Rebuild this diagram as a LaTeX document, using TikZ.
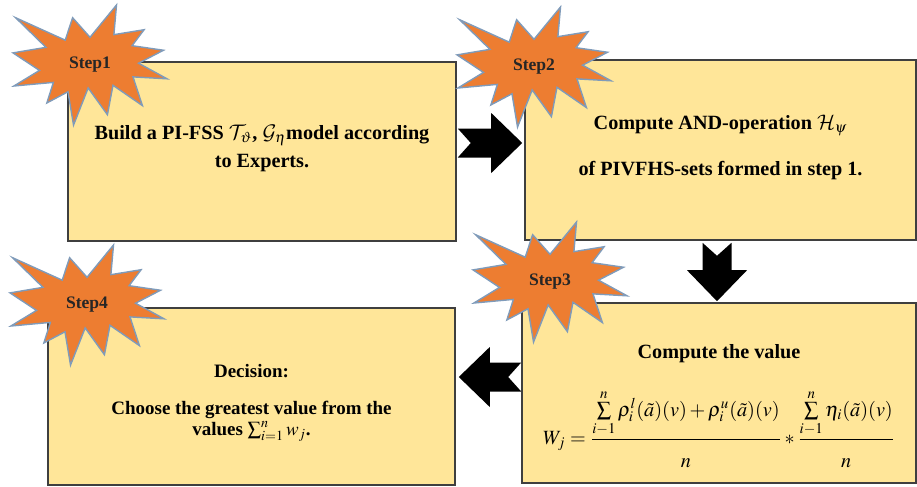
\documentclass[tikz,border=0pt]{standalone}
\usepackage{amsmath}
\usepackage{mathptmx}
\DeclareMathAlphabet{\mathcal}{OMS}{cmsy}{m}{n}
\usepackage{fontspec}
\setmainfont{Liberation Serif}
\usetikzlibrary{calc}

\definecolor{boxfill}{HTML}{FFE699}
\definecolor{boxline}{HTML}{3F3F3F}
\definecolor{burstfill}{HTML}{ED7D31}
\definecolor{burstline}{HTML}{7F9BBA}

\begin{document}
\begin{tikzpicture}[
    stepbox/.style={draw=boxline, fill=boxfill, line width=0.9pt, align=center, font=\fontsize{11.5}{16}\selectfont\bfseries},
    step label/.style={font=\fontsize{10}{12}\selectfont\bfseries, text=black!85, inner sep=0pt},
    burst/.style={fill=burstfill, draw=burstline, line width=0.8pt, line join=miter},
    explosion/.pic={
      \begin{scope}[x=0.0308cm, y=-0.024cm]
        \path[burst] (50,26.9) -- (67.2,0) -- (65.5,24.7) -- (85.1,20.6) -- (77.3,33.9) -- (97.7,37.7)
          -- (81.5,48.5) -- (100,61.5) -- (77.9,59.9) -- (84.0,83.8) -- (64.9,66.9) -- (61.3,91.4)
          -- (48.8,69.1) -- (39.3,100) -- (35.7,72.3) -- (22.0,81.6) -- (26.2,64.5) -- (0.6,67.5)
          -- (17.2,54.5) -- (0,39.9) -- (21.4,35.3) -- (1.7,10.6) -- (33.9,29.3) -- (38.7,10.6) -- cycle;
        \node[step label] (-label) at (50,50) {#1};
      \end{scope}
    },
    notch arrow/.style={fill=black, to path={
      let \p1=(\tikztostart), \p2=(\tikztotarget),
          \n1={atan2(\y2-\y1,\x2-\x1)}, \n2={veclen(\x2-\x1,\y2-\y1)-0.62cm} in
      ($(\p1)+(\n1+90:0.29cm)$) -- ++(\n1:\n2) -- ++(\n1+90:0.31cm) -- (\p2)
      -- ($(\p1)+(\n1:\n2)+(\n1-90:0.6cm)$) -- ++(\n1+90:0.31cm) -- ++(\n1+180:\n2)
      -- ($(\p1)+(\n1:0.26cm)$) -- cycle}}
  ]
    \useasboundingbox (0,0) rectangle (18.34,9.72);

    % the four step boxes
    \node[stepbox, minimum width=7.76cm, minimum height=3.58cm] (build) at (5.24,6.69)
      {Build a PI-FSS $\mathcal{T}_{\vartheta}$, $\mathcal{G}_{\eta}$model according\\to Experts.\rule[-2mm]{0pt}{0pt}};
    \node[stepbox, minimum width=7.82cm, minimum height=3.6cm] (andop) at (14.41,6.72)
      {Compute AND-operation $\mathcal{H}_{\psi}$\\[3.5mm]of PIVFHS-sets formed in step 1.\rule[-1.8mm]{0pt}{0pt}};
    \node[stepbox, minimum width=7.88cm, minimum height=3.6cm] (value) at (14.38,1.86)
      {\rule{0pt}{8mm}Compute the value\\[5mm]
       $W_j=\dfrac{\sum\limits_{i-1}^{n}\rho_i^{l}(\tilde{a})(v)+\rho_i^{u}(\tilde{a})(v)\rule[-3mm]{0pt}{0pt}}{\rule{0pt}{5mm}n}
        *\dfrac{\sum\limits_{i-1}^{n}\eta_i(\tilde{a})(v)\rule[-3mm]{0pt}{0pt}}{\rule{0pt}{5mm}n}$};
    \node[stepbox, minimum width=8.14cm, minimum height=3.54cm, font=\fontsize{10.8}{13}\selectfont\bfseries] (decide) at (5.03,1.79)
      {\rule{0pt}{5mm}Decision:\\[3mm]Choose the greatest value from the\\[-0.5mm]values $\sum_{i=1}^{n} w_j$.};

    % block arrows between the boxes
    \path[notch arrow] ([shift={(0.02,0.17)}]build.east) to ([shift={(-0.04,0.14)}]andop.west);
    \path[notch arrow] ([shift={(-0.07,-0.04)}]andop.south) to ([shift={(-0.04,0.02)}]value.north);
    \path[notch arrow] ([shift={(0,0.32)}]value.west) to ([shift={(0.06,0.39)}]decide.east);

    % step badges
    \pic (step1) at (0.26,9.62) {explosion=Step1};
    \pic (step2) at (9.14,9.58) {explosion=Step2};
    \pic (step3) at (9.46,5.28) {explosion=Step3};
    \pic (step4) at (0.20,4.82) {explosion=Step4};
\end{tikzpicture}
\end{document}
